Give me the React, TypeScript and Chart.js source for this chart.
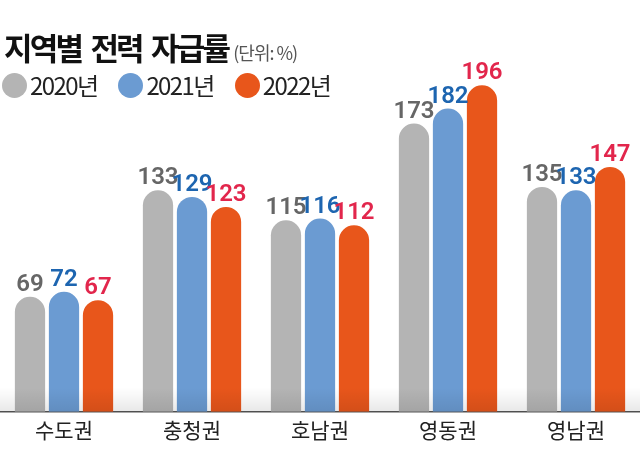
import React, { useEffect, useRef } from "react";
import { Chart, registerables } from "chart.js";

Chart.register(...registerables);

const titleText = "지역별 전력 자급률";
const unitText = "(단위: %)";
const categories = ["수도권", "충청권", "호남권", "영동권", "영남권"];
const seriesLabels = ["2020년", "2021년", "2022년"];
const values2020 = [69, 133, 115, 173, 135];
const values2021 = [72, 129, 116, 182, 133];
const values2022 = [67, 123, 112, 196, 147];
const barColors = ["#b4b4b4", "#6b9bd2", "#e8561b"];
const labelColors = ["#666666", "#1d65b0", "#e2264c"];
const yMax = 240;

const seriesValues = [values2020, values2021, values2022];

const valueLabelPlugin = {
  id: "valueLabels",
  afterDatasetsDraw(chart: any) {
    const ctx = chart.ctx;
    const area = chart.chartArea;
    const g = ctx.createLinearGradient(0, area.bottom - 24, 0, area.bottom);
    g.addColorStop(0, "rgba(0,0,0,0)");
    g.addColorStop(1, "rgba(0,0,0,0.09)");
    ctx.save();
    ctx.fillStyle = g;
    ctx.fillRect(area.left, area.bottom - 24, area.right - area.left, 24);
    ctx.restore();

    ctx.save();
    ctx.font = "600 24px Roboto";
    ctx.textAlign = "center";
    ctx.textBaseline = "alphabetic";
    chart.data.datasets.forEach((ds: any, i: number) => {
      const meta = chart.getDatasetMeta(i);
      ctx.fillStyle = labelColors[i];
      meta.data.forEach((el: any, j: number) => {
        ctx.fillText(String(ds.data[j]), el.x, el.y - 6);
      });
    });
    ctx.restore();
  },
};

export default function App() {
  const ref = useRef<HTMLCanvasElement | null>(null);

  useEffect(() => {
    if (!ref.current) return;
    const chart = new Chart(ref.current, {
      type: "bar",
      data: {
        labels: categories,
        datasets: seriesLabels.map((label, i) => ({
          label,
          data: seriesValues[i],
          backgroundColor: barColors[i],
          borderWidth: 0,
          borderRadius: { topLeft: 16, topRight: 16, bottomLeft: 0, bottomRight: 0 },
          borderSkipped: "bottom",
          categoryPercentage: 0.797,
          barPercentage: 0.89,
        })),
      },
      options: {
        responsive: false,
        animation: false,
        devicePixelRatio: 1,
        layout: { padding: { top: 12, bottom: 14, left: 0, right: 0 } },
        plugins: {
          legend: { display: false },
          tooltip: { enabled: false },
          title: { display: false },
        },
        scales: {
          x: {
            grid: { display: false, drawTicks: false },
            border: { display: true, color: "#555555", width: 1.5 },
            ticks: {
              padding: 6,
              color: "#222222",
              font: { family: '"Noto Sans CJK KR"', size: 21 },
            },
          },
          y: { display: false, min: 0, max: yMax },
        },
      },
      plugins: [valueLabelPlugin],
    } as any);
    return () => chart.destroy();
  }, []);

  return (
    <div style={{ position: "absolute", left: 0, top: 0, width: 640, height: 463, background: "#fff", overflow: "hidden" }}>
      <canvas ref={ref} width={640} height={463} style={{ position: "absolute", left: 0, top: 0 }} />
      <div
        style={{
          position: "absolute",
          left: 4,
          top: 31,
          whiteSpace: "nowrap",
          fontFamily: '"Noto Sans CJK KR"',
          lineHeight: "32px",
        }}
      >
        <span style={{ fontSize: 31, fontWeight: 700, color: "#111", letterSpacing: -2.8, wordSpacing: 5 }}>{titleText}</span>
        <span style={{ fontSize: 18, color: "#555", letterSpacing: -1, marginLeft: 5 }}>{unitText}</span>
      </div>
      <div
        style={{
          position: "absolute",
          left: 2,
          top: 72,
          height: 26,
          display: "flex",
          alignItems: "center",
          fontFamily: '"Noto Sans CJK KR"',
          whiteSpace: "nowrap",
        }}
      >
        {seriesLabels.map((s, i) => (
          <div key={s} style={{ display: "flex", alignItems: "center", marginRight: 21 }}>
            <span style={{ width: 25, height: 25, borderRadius: "50%", background: barColors[i], display: "inline-block" }} />
            <span style={{ fontSize: 24, color: "#222", letterSpacing: -1.6, marginLeft: 3, lineHeight: "26px" }}>{s}</span>
          </div>
        ))}
      </div>
    </div>
  );
}
